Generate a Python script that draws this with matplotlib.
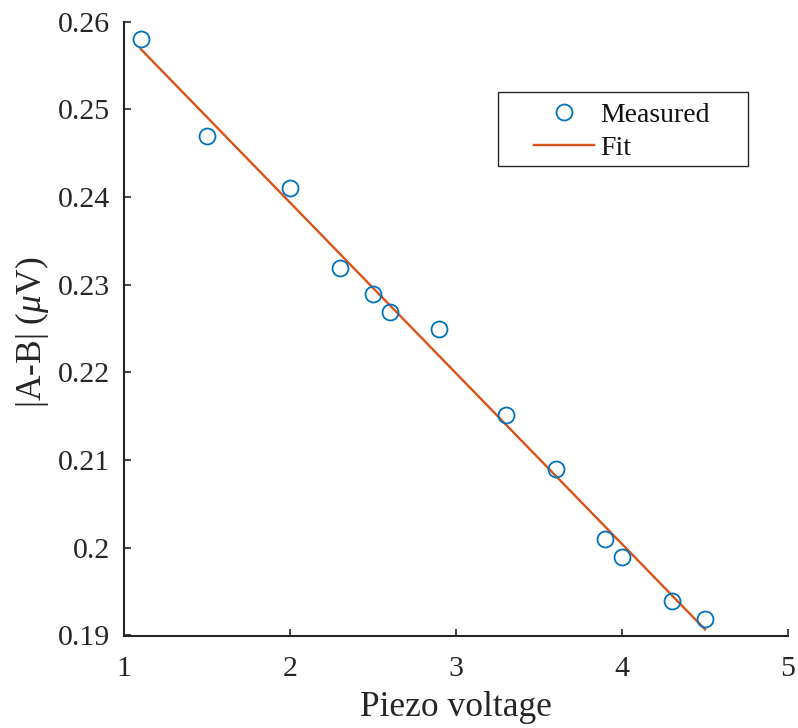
import matplotlib
matplotlib.use("Agg")
import matplotlib.pyplot as plt
from matplotlib.patches import Rectangle
from matplotlib.ticker import FuncFormatter

# ---- data ----
piezo_voltage = [1.1, 1.5, 2.0, 2.3, 2.5, 2.6, 2.9, 3.3, 3.6, 3.9, 4.0, 4.3, 4.5]
abs_diff_uV = [0.2580, 0.2470, 0.2410, 0.2319, 0.2290, 0.2269, 0.2250,
               0.2152, 0.2090, 0.2010, 0.1990, 0.1939, 0.1919]
fit_x = [1.1, 4.5]
fit_y = [0.2569, 0.1907]
x_ticks = [1, 2, 3, 4, 5]
y_ticks = [0.19, 0.20, 0.21, 0.22, 0.23, 0.24, 0.25, 0.26]

plt.rcParams['font.family'] = ['Liberation Serif', 'DejaVu Serif']
plt.rcParams['mathtext.fontset'] = 'custom'
plt.rcParams['mathtext.rm'] = 'Liberation Serif'
plt.rcParams['mathtext.it'] = 'Liberation Serif:italic'

W, H = 798, 728
fig = plt.figure(figsize=(W / 100, H / 100), dpi=100)
L, R, T, B = 124, 788, 21.7, 635.5
ax = fig.add_axes([L / W, 1 - B / H, (R - L) / W, (B - T) / H])

blue = '#0072BD'
orange = '#D95319'

ax.plot(piezo_voltage, abs_diff_uV, linestyle='none', marker='o', markersize=11.5,
        markerfacecolor='none', markeredgecolor=blue, markeredgewidth=1.3,
        label='Measured', zorder=3)
ax.plot(fit_x, fit_y, color=orange, linewidth=1.7, label='Fit', zorder=2)

ax.set_xlim(1, 5)
ax.set_ylim(0.19, 0.26)
ax.set_xticks(x_ticks)
ax.set_yticks(y_ticks)
ax.yaxis.set_major_formatter(FuncFormatter(lambda v, p: f'{v:g}'))
ax.xaxis.set_major_formatter(FuncFormatter(lambda v, p: f'{v:g}'))

for s in ['top', 'right']:
    ax.spines[s].set_visible(False)
for s in ['left', 'bottom']:
    ax.spines[s].set_linewidth(1.5)
    ax.spines[s].set_color('#262626')
ax.tick_params(direction='in', length=5, width=1.2, colors='#262626',
               labelsize=21.5, labelcolor='#262626')
ax.tick_params(axis='x', pad=14.5)
ax.tick_params(axis='y', pad=10)

ax.set_xlabel('Piezo voltage', fontsize=25.5, color='#262626', labelpad=7)
ax.set_ylabel(r'|A-B| ($\mu$V)', fontsize=25.5, color='#262626')
ax.yaxis.set_label_coords(-0.110, 0.494)

leg = ax.legend(loc='upper left', bbox_to_anchor=(534 / W, 1 - 102.5 / H),
                bbox_transform=fig.transFigure, frameon=False, fontsize=20,
                handlelength=2.15, handletextpad=0.25, labelspacing=0.28,
                borderpad=0, borderaxespad=0)
for t in leg.get_texts():
    t.set_color('#111111')

# legend frame
lx0, ly0, lx1, ly1 = 498.3, 91.7, 748.3, 165.7
fig.patches.append(Rectangle((lx0 / W, 1 - ly1 / H), (lx1 - lx0) / W, (ly1 - ly0) / H,
                             transform=fig.transFigure, fill=False,
                             edgecolor='#262626', linewidth=1.0, zorder=5))

fig.savefig('out.png', dpi=100)
